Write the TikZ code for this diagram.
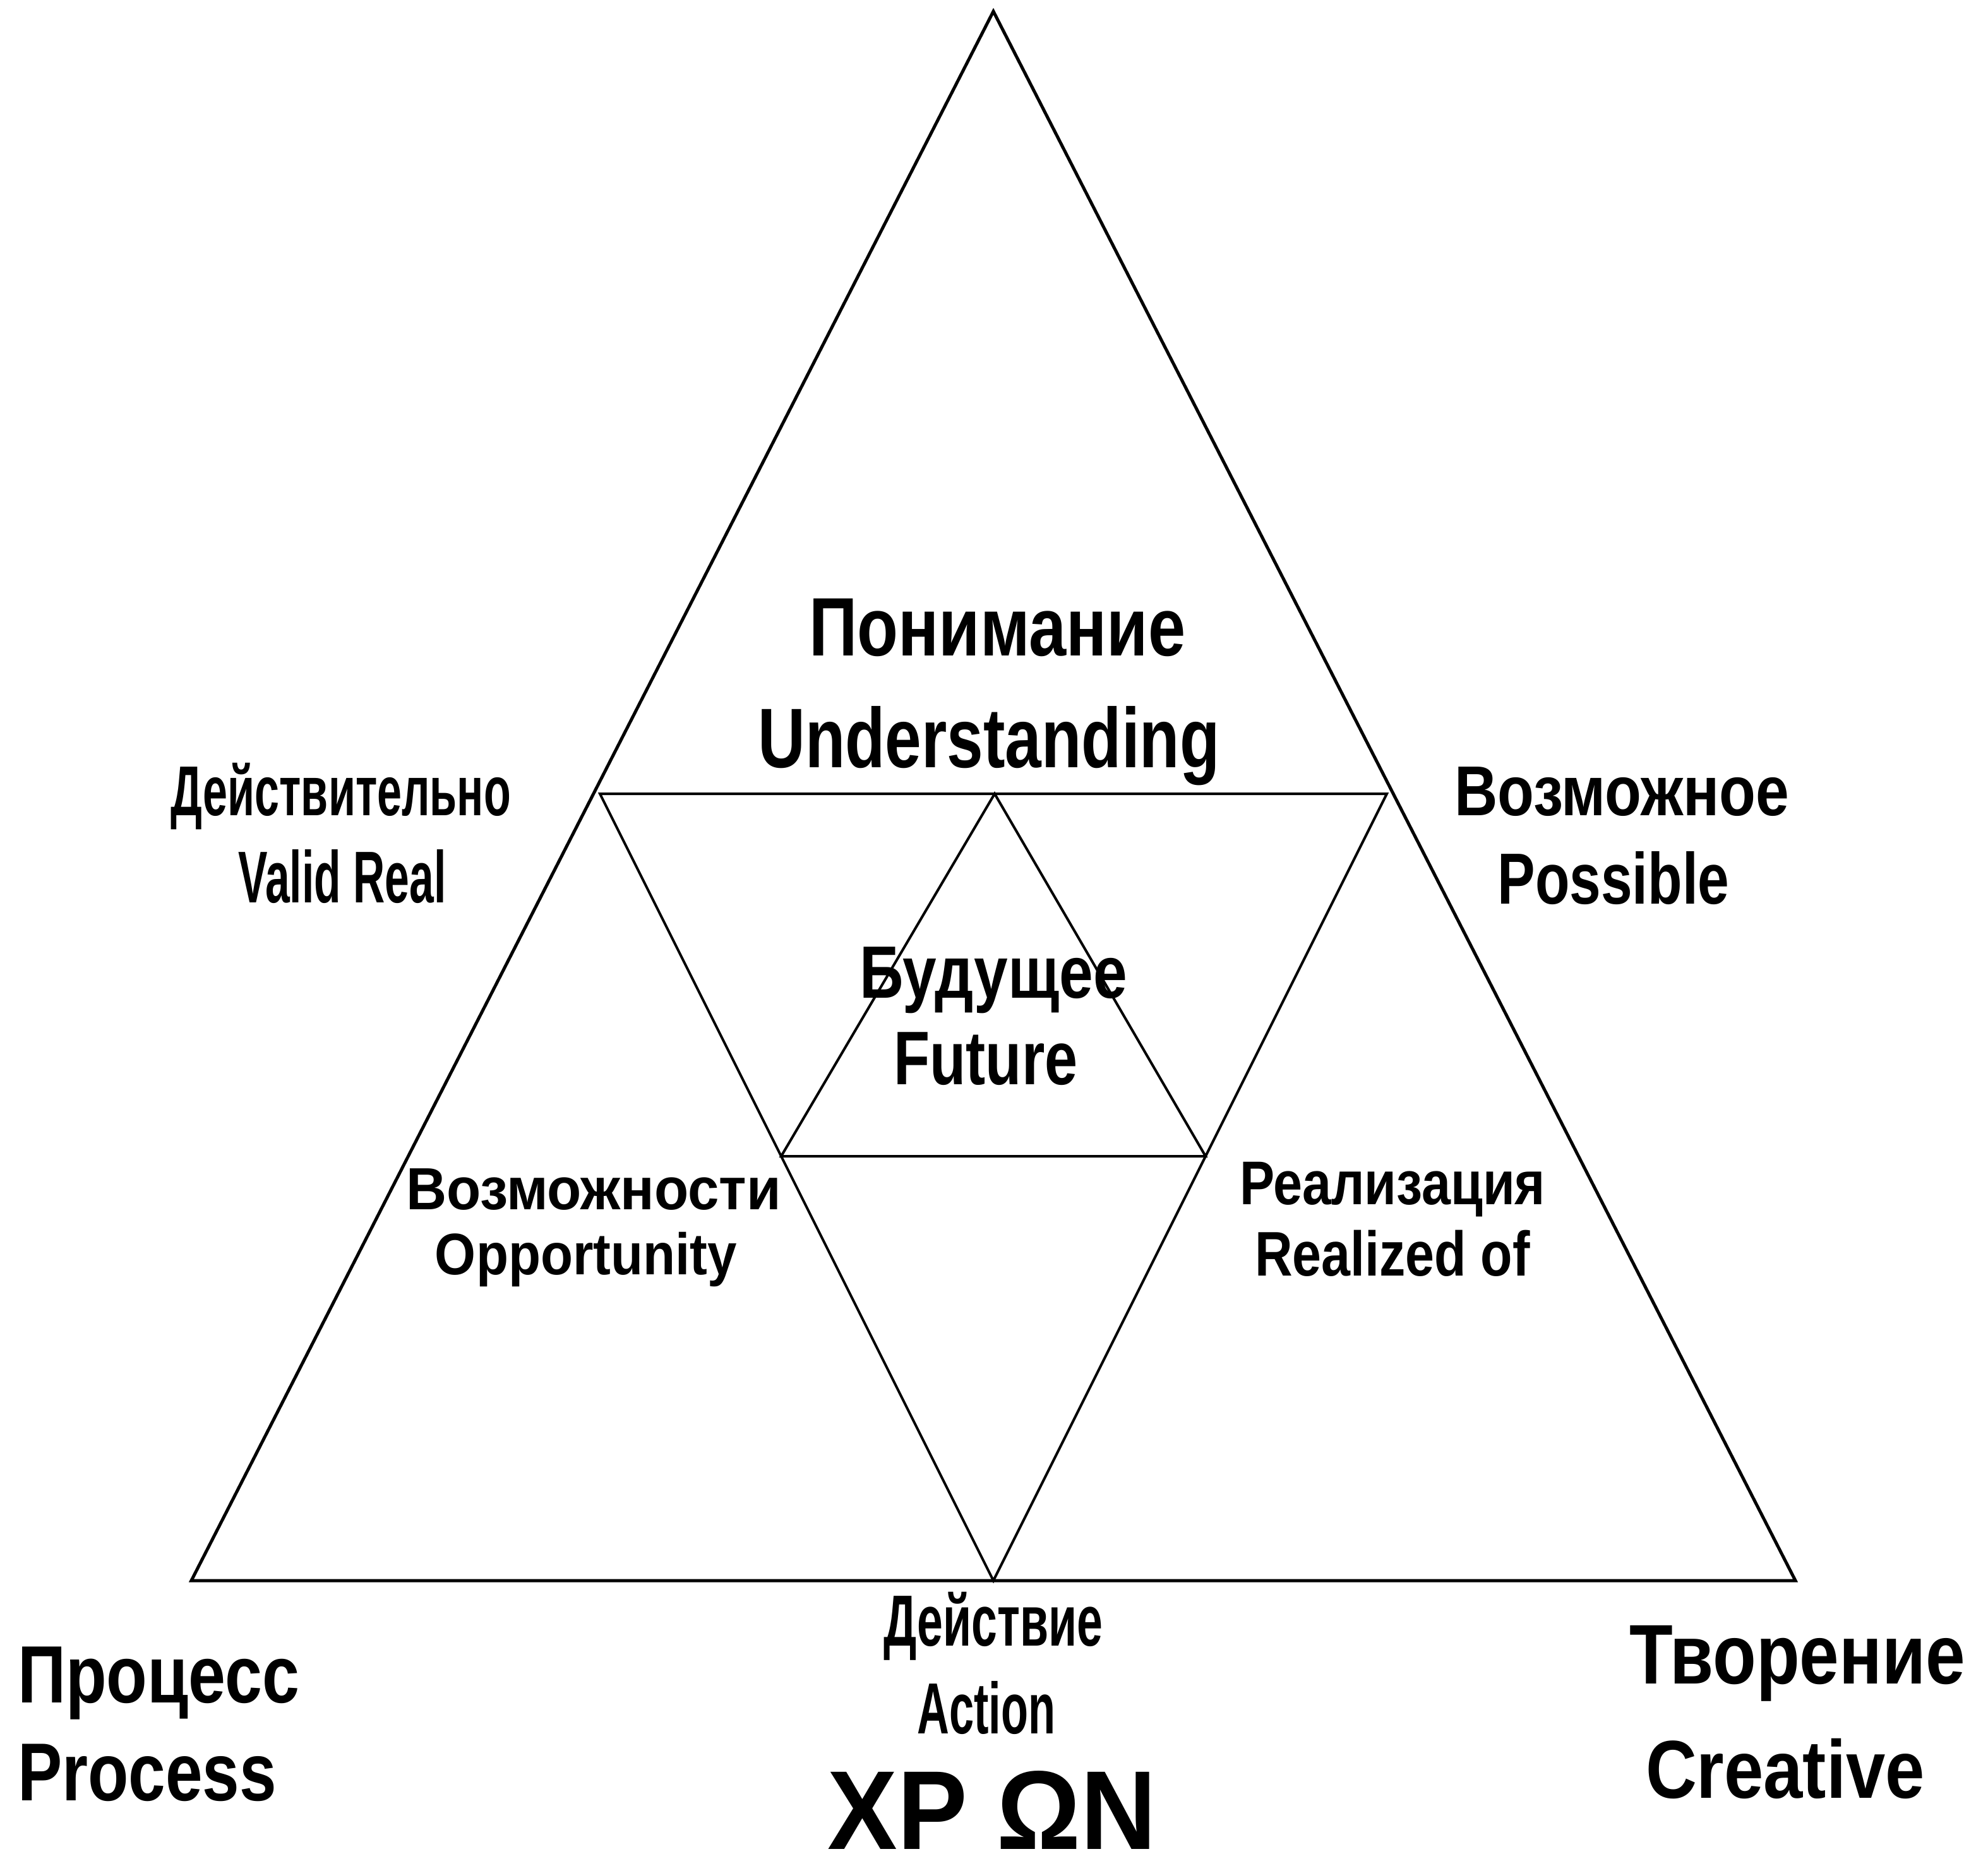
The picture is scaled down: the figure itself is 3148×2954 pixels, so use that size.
\documentclass[tikz,border=0pt]{standalone}
\usepackage{fontspec}
\setmainfont{Liberation Sans}
\usepackage{graphicx}
\newlength\pxu
\setlength\pxu{0.01cm}
% #1 = ink width in px, #2 = font size, #3 = text
\newcommand{\lbl}[3]{\resizebox{#1\pxu}{\height}{\fontsize{#2}{#2}\selectfont\bfseries #3}}
\begin{document}
\begin{tikzpicture}[x=0.01cm,y=-0.01cm,
  outerline/.style={line width=5\pxu, line join=miter, black},
  innerline/.style={line width=4\pxu, line join=miter, black},
  txt/.style={inner sep=0pt, outer sep=0pt, anchor=base},
  txtl/.style={inner sep=0pt, outer sep=0pt, anchor=base west}]
\fill[white] (0,0) rectangle (3148,2954);
\useasboundingbox (0,0) rectangle (3148,2954);
% vertices
\coordinate (A) at (1573,18);
\coordinate (BL) at (303,2503);
\coordinate (BR) at (2843,2503);
\coordinate (IL) at (950,1257);
\coordinate (IR) at (2196,1257);
\coordinate (IB) at (1573,2503);
\coordinate (SA) at (1575,1257);
\coordinate (SL) at (1237,1831);
\coordinate (SR) at (1909,1831);
% triangles
\draw[outerline] (A) -- (BL) -- (BR) -- cycle;
\draw[innerline] (IL) -- (IR) -- (IB) -- cycle;
\draw[innerline] (SA) -- (SL) -- (SR) -- cycle;
% labels
\node[txt] (und1) at (1579,1038) {\lbl{596}{37.35pt}{Понимание}};
\node[txt] (und2) at (1566,1215) {\lbl{731}{38.1pt}{Understanding}};
\node[txt] (val1) at (540,1291) {\lbl{538}{31.8pt}{Действительно}};
\node[txt] (val2) at (542,1429) {\lbl{329}{33.0pt}{Valid Real}};
\node[txt] (pos1) at (2568,1291) {\lbl{530}{31.8pt}{Возможное}};
\node[txt] (pos2) at (2555,1431) {\lbl{367}{32.6pt}{Possible}};
\node[txt] (fut1) at (1573,1580) {\lbl{424}{33.4pt}{Будущее}};
\node[txt] (fut2) at (1561,1717) {\lbl{291}{34.2pt}{Future}};
\node[txt] (opp1) at (940,1915) {\lbl{594}{26.8pt}{Возможности}};
\node[txt] (opp2) at (928,2018) {\lbl{478}{26.4pt}{Opportunity}};
\node[txt] (rea1) at (2205,1907) {\lbl{484}{27.8pt}{Реализация}};
\node[txt] (rea2) at (2205,2020) {\lbl{436}{28.4pt}{Realized of}};
\node[txt] (act1) at (1573,2606) {\lbl{347}{32.6pt}{Действие}};
\node[txt] (act2) at (1562,2745) {\lbl{219}{32.6pt}{Action}};
\node[txtl] (pro1) at (28,2696) {\lbl{446}{36.6pt}{Процесс}};
\node[txtl] (pro2) at (28,2851) {\lbl{410}{37.0pt}{Process}};
\node[txt] (cre1) at (2846,2666) {\lbl{532}{38.1pt}{Творение}};
\node[txt] (cre2) at (2827,2847) {\lbl{442}{37.0pt}{Creative}};
\node[txt] (xpon) at (1571,2928) {\lbl{520}{50.5pt}{XP ΩN}};
\end{tikzpicture}
\end{document}
